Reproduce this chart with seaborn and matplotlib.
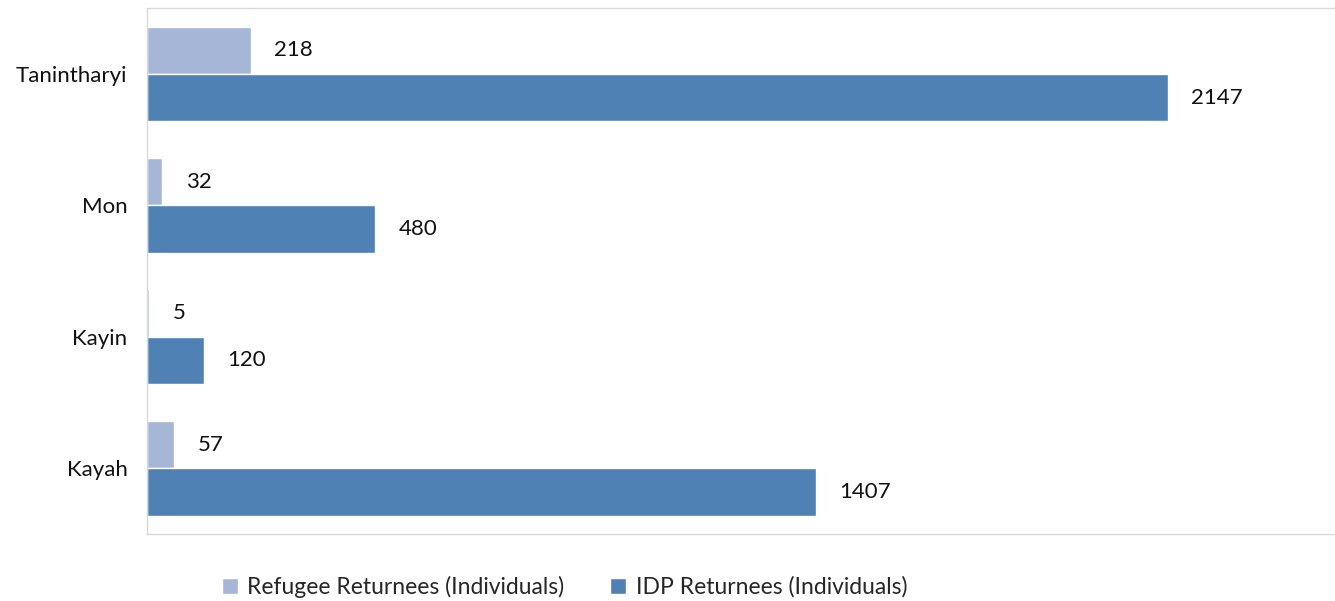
import pandas as pd
import matplotlib.pyplot as plt
import seaborn as sns

# Values
regions = ['Tanintharyi', 'Mon', 'Kayin', 'Kayah']
refugee_returnees = [218, 32, 5, 57]
idp_returnees = [2147, 480, 120, 1407]
series_names = ['Refugee Returnees (Individuals)', 'IDP Returnees (Individuals)']
series_colors = ['#a5b6d7', '#4f81b5']

df = pd.DataFrame({
    'Region': regions * 2,
    'Value': refugee_returnees + idp_returnees,
    'Series': [series_names[0]] * len(regions) + [series_names[1]] * len(regions),
})

sns.set_style('white')
plt.rcParams['font.family'] = ['Lato', 'DejaVu Sans']

fig = plt.figure(figsize=(13.35, 6.01), dpi=100)
ax = fig.add_axes([0.110, 0.1115, 0.889, 0.875])

sns.barplot(data=df, y='Region', x='Value', hue='Series', order=regions,
            hue_order=series_names, palette=series_colors, orient='h',
            width=0.72, saturation=1, ax=ax, legend=True)

# Value labels at the end of each bar
for container in ax.containers:
    ax.bar_label(container, padding=17, fontsize=16, color='#111111')

ax.set_xlim(0, 2496)
ax.set_xlabel('')
ax.set_ylabel('')
ax.set_xticks([])
ax.tick_params(axis='y', length=0, labelsize=16, pad=14, colors='#111111')

for side in ['left', 'top', 'bottom']:
    ax.spines[side].set_color('#d9d9d9')
    ax.spines[side].set_linewidth(1)
ax.spines['right'].set_visible(False)

ax.legend(loc='center', bbox_to_anchor=(0.352, -0.1), ncol=2, frameon=False,
          fontsize=16.5, handlelength=0.7, handleheight=0.7, handletextpad=0.4,
          columnspacing=2.0)

fig.savefig('out.png', dpi=100)
